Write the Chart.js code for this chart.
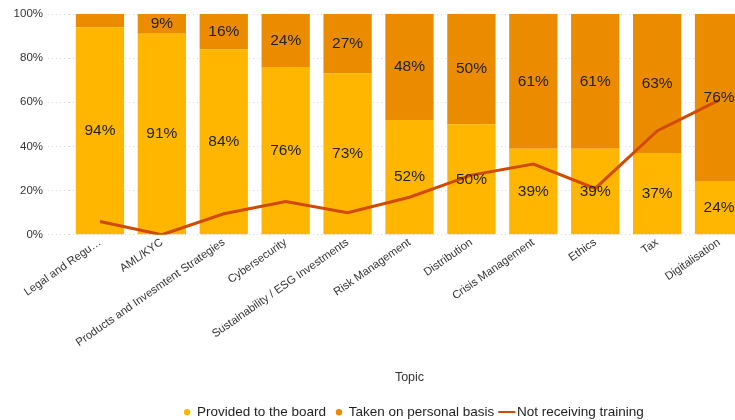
<!DOCTYPE html>
<html>
<head>
<meta charset="utf-8">
<script src="https://cdn.jsdelivr.net/npm/chart.js@4/dist/chart.umd.min.js"></script>
<style>
  html, body { margin: 0; padding: 0; background: #fff; overflow: hidden; }
  #wrap { width: 828px; height: 420px; position: relative; }
</style>
</head>
<body>
<div id="wrap"><canvas id="chart" width="828" height="420"></canvas></div>
<script>
// Training topics
const topics = [
  "Legal and Regu…", "AML/KYC", "Products and Invesmtent Strategies", "Cybersecurity",
  "Sustainability / ESG Investments", "Risk Management", "Distribution",
  "Crisis Management", "Ethics", "Tax", "Digitalisation"
];
// Share of members (%) by how training was received
const providedToBoard = [94, 91, 84, 76, 73, 52, 50, 39, 39, 37, 24];
const takenPersonally = [6, 9, 16, 24, 27, 48, 50, 61, 61, 63, 76];
const notReceiving = [6, 0, 9.5, 15, 10, 17, 27, 32, 21, 47, 61];
const yTicks = [0, 20, 40, 60, 80, 100];

const FONT = "'Liberation Sans', Arial, Helvetica, sans-serif";
const YELLOW = "#FFB600";
const ORANGE = "#EB8C00";
const RED = "#D04A02";

// Small legend marker for the line series
function lineMarker() {
  const c = document.createElement("canvas");
  c.width = 22; c.height = 2;
  const g = c.getContext("2d");
  g.fillStyle = RED;
  g.fillRect(2, 0, 17, 2);
  return c;
}

// Writes the percentage inside each bar segment
const segmentLabels = {
  id: "segmentLabels",
  afterDatasetsDraw(chart) {
    const ctx = chart.ctx;
    ctx.save();
    ctx.font = "15.5px " + FONT;
    ctx.fillStyle = "#1f1f1f";
    ctx.textAlign = "center";
    ctx.textBaseline = "middle";
    [1, 2].forEach(di => {
      const meta = chart.getDatasetMeta(di);
      const values = chart.data.datasets[di].data;
      meta.data.forEach((bar, i) => {
        const v = values[i];
        if (v < 8) return;
        const cy = (bar.y + bar.base) / 2;
        ctx.fillText(v + "%", bar.x, cy);
      });
    });
    ctx.restore();
  }
};

const dotted = [1, 3];

new Chart(document.getElementById("chart"), {
  data: {
    labels: topics,
    datasets: [
      {
        type: "line",
        label: "Not receiving training",
        data: notReceiving,
        borderColor: RED,
        backgroundColor: RED,
        borderWidth: 3,
        pointRadius: 0,
        tension: 0,
        stack: "line",
        order: 0,
        pointStyle: lineMarker()
      },
      {
        type: "bar",
        label: "Provided to the board",
        data: providedToBoard,
        backgroundColor: YELLOW,
        stack: "share",
        order: 1,
        pointStyle: "circle"
      },
      {
        type: "bar",
        label: "Taken on personal basis",
        data: takenPersonally,
        backgroundColor: ORANGE,
        stack: "share",
        order: 1,
        pointStyle: "circle"
      }
    ]
  },
  options: {
    responsive: false,
    animation: false,
    devicePixelRatio: 1,
    layout: { padding: { top: 14, left: 0, right: 0, bottom: -9 } },
    datasets: { bar: { categoryPercentage: 1, barPercentage: 0.78 } },
    scales: {
      x: {
        stacked: true,
        grid: { display: false },
        border: { display: false },
        ticks: {
          autoSkip: false,
          minRotation: 35,
          maxRotation: 35,
          padding: -7,
          color: "#333",
          font: { family: FONT, size: 11.3 }
        },
        title: {
          display: true,
          text: "Topic",
          color: "#333",
          font: { family: FONT, size: 12.5 },
          padding: { top: 28, bottom: 10 }
        }
      },
      y: {
        stacked: true,
        min: 0,
        max: 100,
        afterBuildTicks(scale) { scale.ticks = yTicks.map(v => ({ value: v })); },
        afterFit(scale) { scale.width = 69; },
        grid: {
          color: "#d9d9d9",
          lineWidth: 1,
          drawTicks: true,
          tickLength: 21,
          tickColor: "#d9d9d9",
          tickBorderDash: dotted,
          borderDash: dotted
        },
        border: { display: false, dash: dotted },
        ticks: {
          padding: 5,
          color: "#333",
          font: { family: FONT, size: 11.5 },
          callback: v => v + "%"
        }
      },
      y2: {
        type: "linear",
        position: "right",
        display: true,
        grid: { display: false, drawTicks: false },
        border: { display: false },
        ticks: { display: false },
        afterFit(scale) { scale.width = 78; }
      }
    },
    plugins: {
      legend: {
        position: "bottom",
        labels: {
          usePointStyle: true,
          boxWidth: 6,
          boxHeight: 4.5,
          padding: 10,
          color: "#1f1f1f",
          font: { family: FONT, size: 13.5 },
          sort: (a, b) => a.datasetIndex === 0 ? 1 : (b.datasetIndex === 0 ? -1 : a.datasetIndex - b.datasetIndex)
        }
      },
      tooltip: { enabled: false }
    }
  },
  plugins: [segmentLabels]
});
</script>
</body>
</html>
